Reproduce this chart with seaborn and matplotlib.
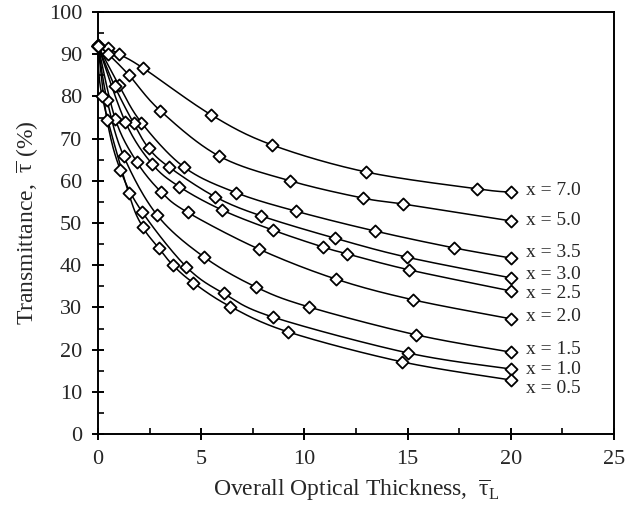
import numpy as np
import pandas as pd
import matplotlib
matplotlib.use("Agg")
import matplotlib.pyplot as plt
from matplotlib.ticker import MultipleLocator
import seaborn as sns

# ---------------- data ----------------
series_names = ["x = 7.0", "x = 5.0", "x = 3.5", "x = 3.0", "x = 2.5",
                "x = 2.0", "x = 1.5", "x = 1.0", "x = 0.5"]

tau_x70 = [0, 0.48, 1.03, 2.19, 5.49, 8.43, 12.98, 18.36, 20]
T_x70 = [92.2, 91.4, 90.0, 86.7, 75.6, 68.5, 62.1, 58.1, 57.3]

tau_x50 = [0, 0.5, 1.49, 3.02, 5.85, 9.30, 12.84, 14.78, 20]
T_x50 = [92.0, 90.0, 85.1, 76.6, 65.9, 60.0, 55.9, 54.5, 50.5]

tau_x35 = [0, 1.0, 2.10, 4.18, 6.68, 9.59, 13.42, 17.25, 20]
T_x35 = [92.0, 82.8, 73.8, 63.2, 57.2, 52.8, 48.1, 44.1, 41.7]

tau_x30 = [0, 0.81, 1.73, 2.46, 3.43, 5.68, 7.90, 11.48, 14.97, 20]
T_x30 = [92.0, 82.4, 73.6, 67.7, 63.3, 56.2, 51.7, 46.4, 41.9, 37.0]

tau_x25 = [0, 1.32, 2.62, 3.94, 6.0, 8.48, 10.90, 12.06, 15.07, 20]
T_x25 = [92.0, 74.0, 64.0, 58.6, 53.1, 48.3, 44.3, 42.7, 38.9, 33.9]

tau_x20 = [0, 0.84, 1.89, 3.07, 4.35, 7.80, 11.53, 15.26, 20]
T_x20 = [92.0, 74.6, 64.4, 57.3, 52.5, 43.8, 36.7, 31.8, 27.3]

tau_x15 = [0, 0.44, 1.24, 2.86, 5.12, 7.66, 10.22, 15.41, 20]
T_x15 = [92.0, 79.1, 65.9, 51.9, 42.0, 34.8, 30.1, 23.5, 19.4]

tau_x10 = [0, 0.44, 1.08, 2.13, 4.28, 6.09, 8.48, 15.02, 20]
T_x10 = [92.0, 74.4, 62.6, 52.7, 39.6, 33.3, 27.7, 19.2, 15.4]

tau_x05 = [0, 0.2, 1.49, 2.16, 2.94, 3.63, 4.60, 6.41, 9.21, 14.73, 20]
T_x05 = [92.0, 80.0, 57.0, 49.1, 44.1, 40.0, 35.9, 30.2, 24.2, 17.1, 12.8]

all_tau = [tau_x70, tau_x50, tau_x35, tau_x30, tau_x25, tau_x20, tau_x15, tau_x10, tau_x05]
all_T = [T_x70, T_x50, T_x35, T_x30, T_x25, T_x20, T_x15, T_x10, T_x05]

# layout: vertical position of the curve labels
label_y = [57.8, 50.7, 42.9, 37.7, 33.4, 27.9, 20.1, 15.2, 10.9]


def excel_smooth(t, T, sx, sy, n=24):
    """Excel-like smoothed line (Bezier through points, computed in screen space)."""
    P = np.column_stack([np.asarray(t, float) * sx, np.asarray(T, float) * sy])
    segs = []
    for i in range(len(P) - 1):
        p0 = P[i - 1] if i > 0 else P[i]
        p1, p2 = P[i], P[i + 1]
        p3 = P[i + 2] if i + 2 < len(P) else P[i + 1]
        c1 = p1 + (p2 - p0) / 6.0
        c2 = p2 - (p3 - p1) / 6.0
        s = np.linspace(0, 1, n)[:, None]
        seg = (1 - s) ** 3 * p1 + 3 * (1 - s) ** 2 * s * c1 + 3 * (1 - s) * s ** 2 * c2 + s ** 3 * p2
        segs.append(seg if i == 0 else seg[1:])
    out = np.vstack(segs)
    return out[:, 0] / sx, out[:, 1] / sy


pts = pd.concat([pd.DataFrame({"series": nm, "tau": t, "T": T})
                 for nm, t, T in zip(series_names, all_tau, all_T)], ignore_index=True)

SX, SY = 20.64, 4.22  # px per data unit (for screen-space smoothing)
smooth_frames = []
for nm, t, T in zip(series_names, all_tau, all_T):
    xs, ys = excel_smooth(t, T, SX, SY)
    smooth_frames.append(pd.DataFrame({"series": nm, "tau": xs, "T": ys,
                                       "order": np.arange(len(xs))}))
smooth = pd.concat(smooth_frames, ignore_index=True)

# ---------------- style ----------------
sns.set_style("ticks")
plt.rcParams["font.family"] = ["Liberation Serif", "DejaVu Serif"]
plt.rcParams["mathtext.fontset"] = "custom"
plt.rcParams["mathtext.rm"] = "Liberation Serif"
plt.rcParams["mathtext.it"] = "Liberation Serif"
plt.rcParams["mathtext.default"] = "rm"

fig = plt.figure(figsize=(6.26, 5.18), dpi=100)
ax = fig.add_axes([98 / 626, (518 - 434) / 518, (614 - 98) / 626, (434 - 12) / 518])

sns.lineplot(data=smooth, x="tau", y="T", units="series", estimator=None, sort=False,
             color="black", linewidth=1.1, ax=ax, legend=False, zorder=2)
sns.scatterplot(data=pts, x="tau", y="T", marker="D", s=38, color="white",
                edgecolor="black", linewidth=1.3, ax=ax, legend=False, zorder=3,
                clip_on=False)

for nm, t, ly in zip(series_names, all_tau, label_y):
    ax.text(t[-1] + 0.75, ly, nm, fontsize=14, va="center", ha="left")

ax.set_xlim(0, 25)
ax.set_ylim(0, 100)
ax.xaxis.set_major_locator(MultipleLocator(5))
ax.xaxis.set_minor_locator(MultipleLocator(2.5))
ax.yaxis.set_major_locator(MultipleLocator(10))
ax.yaxis.set_minor_locator(MultipleLocator(5))
ax.tick_params(which="major", direction="inout", length=9, width=1.4,
               labelsize=16, color="black", pad=7)
ax.tick_params(which="minor", direction="in", length=4, width=1.2, color="black")
for sp in ax.spines.values():
    sp.set_linewidth(1.4)
    sp.set_color("black")
    sp.set_visible(True)

ax.set_xlabel(r"Overall Optical Thickness,  $\overline{\tau}_{\mathrm{L}}$", fontsize=17, labelpad=6)
ax.set_ylabel(r"Transmittance,  $\overline{\tau}$ (%)", fontsize=17, labelpad=6)

fig.savefig("out.png", dpi=100)
